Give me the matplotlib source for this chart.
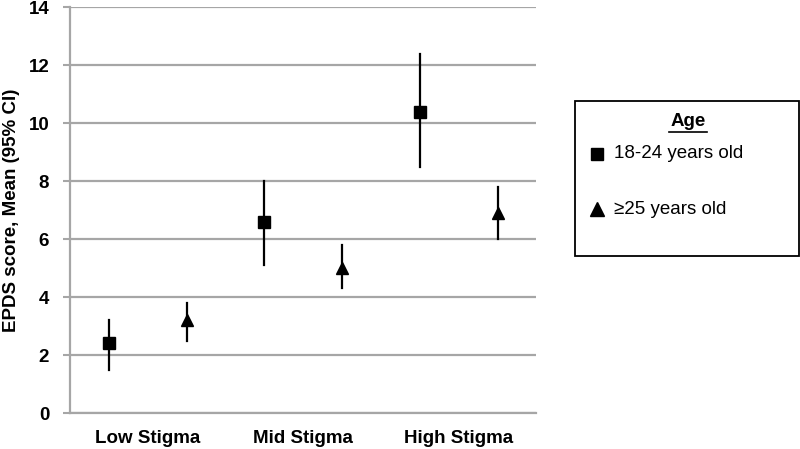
import matplotlib
matplotlib.use("Agg")
import matplotlib.pyplot as plt
from matplotlib.patches import Rectangle
from matplotlib.lines import Line2D

plt.rcParams['font.family'] = ['Liberation Sans', 'DejaVu Sans']

categories = ["Low Stigma", "Mid Stigma", "High Stigma"]
young_mean = [2.4, 6.6, 10.4]
young_low = [1.5, 5.1, 8.5]
young_high = [3.2, 8.0, 12.4]
old_mean = [3.2, 5.0, 6.9]
old_low = [2.5, 4.3, 6.0]
old_high = [3.8, 5.8, 7.8]
series_labels = ["18-24 years old", "\u226525 years old"]
yticks = [0, 2, 4, 6, 8, 10, 12, 14]

fig = plt.figure(figsize=(8, 4.49), dpi=100)
ax = fig.add_axes([0.0875, 0.080, 0.583, 0.904])

grid_c = "#a6a6a6"
xs_y = [2 * i + 0.5 for i in range(3)]
xs_o = [2 * i + 1.5 for i in range(3)]

for x, m, lo, hi in zip(xs_y, young_mean, young_low, young_high):
    ax.plot([x, x], [lo, hi], color="black", lw=1.6, zorder=3)
    ax.plot([x], [m], marker="s", ms=8.5, color="black", zorder=4)
for x, m, lo, hi in zip(xs_o, old_mean, old_low, old_high):
    ax.plot([x, x], [lo, hi], color="black", lw=1.6, zorder=3)
    ax.plot([x], [m], marker="^", ms=8, color="black", zorder=4)

ax.set_xlim(0, 6)
ax.set_ylim(0, 14)
ax.set_yticks(yticks)
ax.set_yticklabels([str(t) for t in yticks], fontsize=13.5, fontweight="bold")
ax.set_xticks([1, 3, 5])
ax.set_xticklabels(categories, fontsize=13.5, fontweight="bold")
ax.tick_params(axis="x", length=0, pad=12)
ax.tick_params(axis="y", length=5, width=1.5, color=grid_c, pad=10)
ax.yaxis.grid(True, color=grid_c, lw=1.6)
ax.set_axisbelow(True)
for s in ["top", "right"]:
    ax.spines[s].set_visible(False)
ax.spines["left"].set_color(grid_c)
ax.spines["left"].set_linewidth(1.6)
ax.spines["bottom"].set_color(grid_c)
ax.spines["bottom"].set_linewidth(1.6)
ax.set_ylabel("EPDS score, Mean (95% CI)", fontsize=13.5, fontweight="bold", labelpad=6)

# legend box
W, H = 800, 449
def fx(px): return px / W
def fy(py): return 1 - py / H

fig.patches.append(Rectangle((fx(575), fy(256)), fx(799) - fx(575), fy(101) - fy(256),
                             transform=fig.transFigure, fill=False, ec="black", lw=1.3))
fig.text(fx(688), fy(121), "Age", ha="center", va="center", fontsize=13.5, fontweight="bold")
fig.lines.append(Line2D([fx(669), fx(707)], [fy(131.5), fy(131.5)], transform=fig.transFigure,
                        color="black", lw=1.2))
fig.lines.append(Line2D([fx(597)], [fy(154)], transform=fig.transFigure, marker="s", ms=9,
                        color="black", ls="none"))
fig.text(fx(614), fy(154), series_labels[0], ha="left", va="center", fontsize=13.5)
fig.lines.append(Line2D([fx(597)], [fy(209)], transform=fig.transFigure, marker="^", ms=10,
                        color="black", ls="none"))
fig.text(fx(614), fy(210), series_labels[1], ha="left", va="center", fontsize=13.5)

fig.savefig("out.png", dpi=100)
